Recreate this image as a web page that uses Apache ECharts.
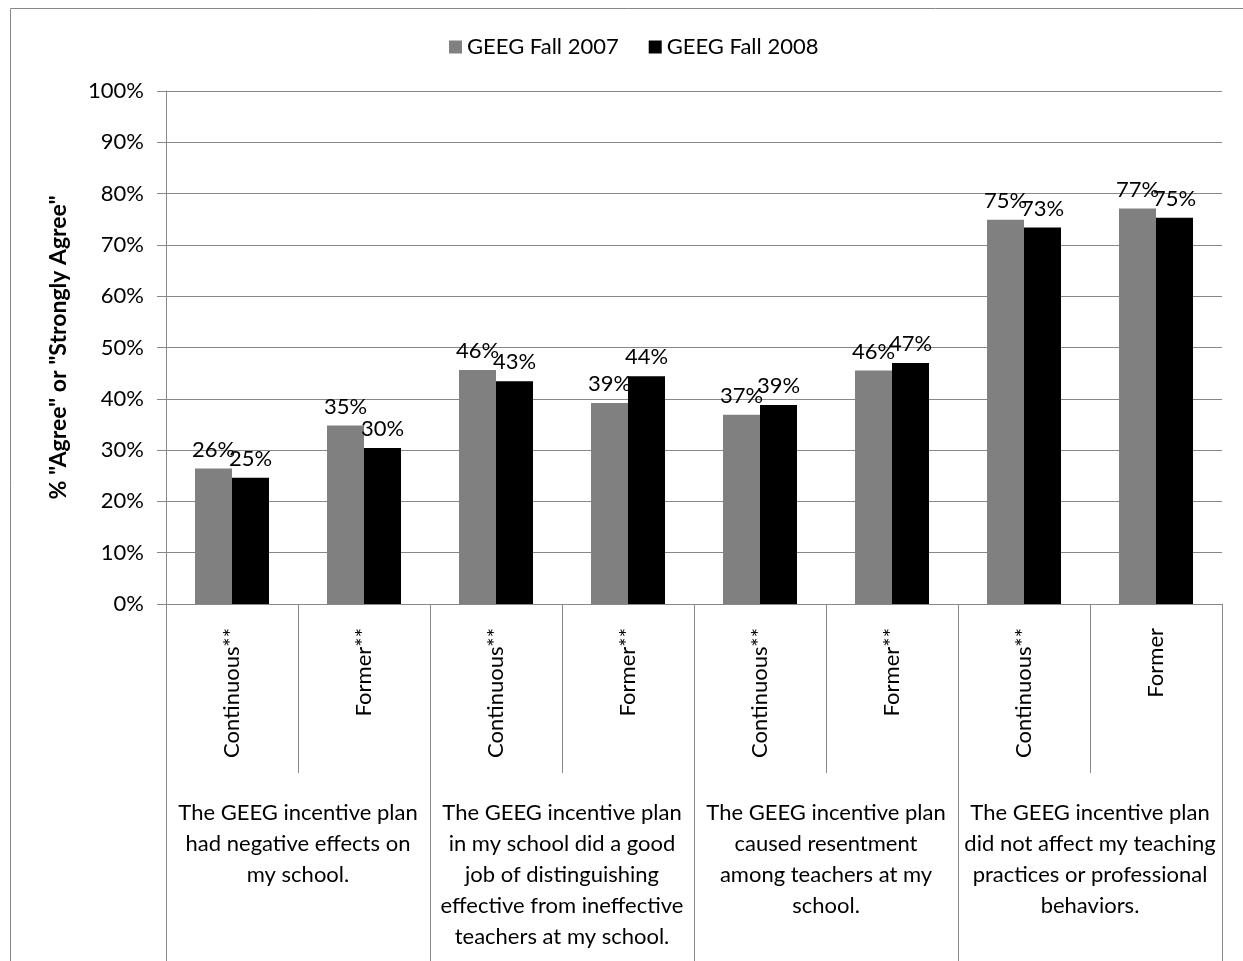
<!DOCTYPE html>
<html>
<head>
<meta charset="utf-8">
<script src="https://cdn.jsdelivr.net/npm/echarts@6/dist/echarts.min.js"></script>
<style>
html,body{margin:0;padding:0;background:#fff;}
#chart{width:1243px;height:961px;}
</style>
</head>
<body>
<div id="chart"></div>
<script>
const categories = ['Continuous**','Former**','Continuous**','Former**','Continuous**','Former**','Continuous**','Former'];
const groups = [
  'The GEEG incentive plan\nhad negative effects on\nmy school.',
  'The GEEG incentive plan\nin my school did a good\njob of distinguishing\neffective from ineffective\nteachers at my school.',
  'The GEEG incentive plan\ncaused resentment\namong teachers at my\nschool.',
  'The GEEG incentive plan\ndid not affect my teaching\npractices or professional\nbehaviors.'
];
const fall2007 = [26.4, 34.8, 45.6, 39.2, 36.9, 45.5, 74.9, 77.1];
const fall2008 = [24.6, 30.4, 43.4, 44.4, 38.8, 47.0, 73.4, 75.3];
const seriesNames = ['GEEG Fall 2007', 'GEEG Fall 2008'];
const yAxisTitle = '% "Agree" or "Strongly Agree"';

const FONT = 'Lato';
const AX = '#888888';
const chart = echarts.init(document.getElementById('chart'));
const lbl = {
  show: true, position: 'top', distance: 8,
  fontFamily: FONT, fontSize: 22, color: '#000',
  formatter: p => Math.round(p.value) + '%'
};
chart.setOption({
  animation: false,
  backgroundColor: '#fff',
  textStyle: {fontFamily: FONT},
  graphic: [{
    type: 'rect', left: 8, top: 6, z: -1, silent: true,
    shape: {width: 1260, height: 1000},
    style: {fill: 'none', stroke: AX, lineWidth: 1}
  }],
  legend: {
    left: 444, top: 31,
    itemWidth: 13, itemHeight: 13, itemGap: 30,
    icon: 'rect',
    textStyle: {fontFamily: FONT, fontSize: 22, color: '#000'},
    data: seriesNames
  },
  grid: {left: 166, right: 21, top: 91, bottom: 357, containLabel: false},
  xAxis: [{
    type: 'category', data: categories, position: 'bottom',
    axisLine: {lineStyle: {color: AX}},
    axisTick: {show: true, length: 169, interval: 0, lineStyle: {color: AX}},
    axisLabel: {interval: 0, rotate: 90, margin: 24, fontFamily: FONT, fontSize: 22, color: '#000'}
  }, {
    type: 'category', data: groups, position: 'bottom',
    axisLine: {show: false},
    axisTick: {show: true, length: 360, interval: 0, lineStyle: {color: AX}},
    axisLabel: {interval: 0, margin: 193, fontFamily: FONT, fontSize: 22, lineHeight: 31, color: '#000', align: 'center'}
  }],
  yAxis: {
    type: 'value', min: 0, max: 100, interval: 10,
    name: yAxisTitle, nameLocation: 'middle', nameGap: 96, nameRotate: 90,
    nameTextStyle: {fontFamily: FONT, fontSize: 23, fontWeight: 'bold', color: '#000'},
    axisLine: {show: true, lineStyle: {color: AX}},
    axisTick: {show: true, length: 9, lineStyle: {color: AX}},
    axisLabel: {formatter: '{value}%', margin: 22, fontFamily: FONT, fontSize: 22, color: '#000'},
    splitLine: {lineStyle: {color: AX, width: 1}}
  },
  series: [{
    name: seriesNames[0], type: 'bar', data: fall2007, barWidth: 37, barGap: 0,
    itemStyle: {color: '#808080'}, label: lbl
  }, {
    name: seriesNames[1], type: 'bar', data: fall2008, barWidth: 37, barGap: 0,
    itemStyle: {color: '#000000'}, label: lbl
  }]
});
</script>
</body>
</html>
